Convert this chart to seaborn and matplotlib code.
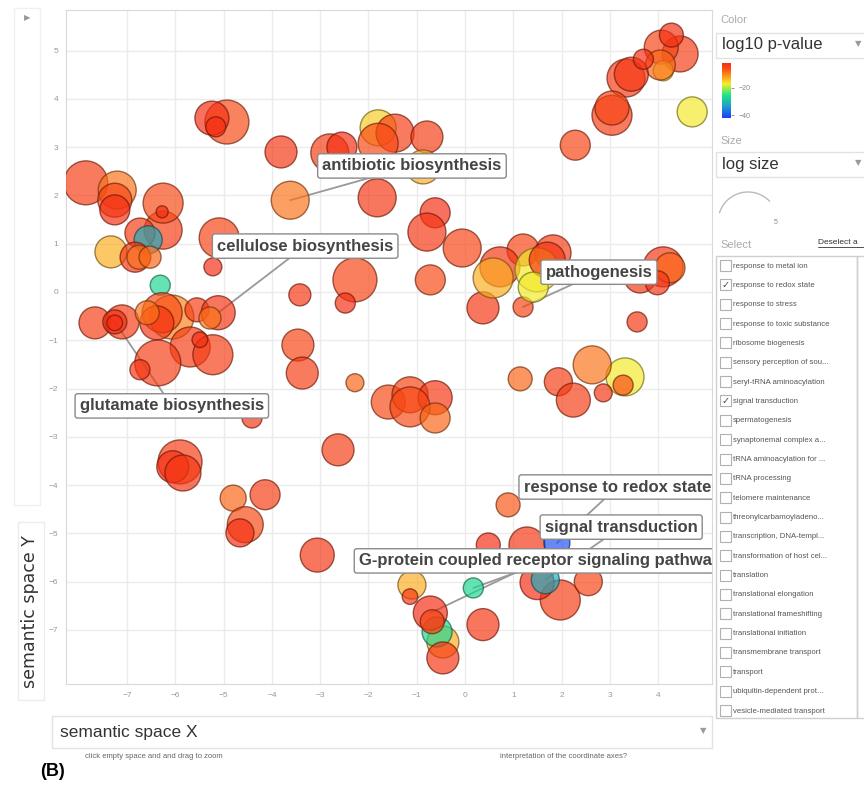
import numpy as np
import pandas as pd
import matplotlib
matplotlib.use("Agg")
import matplotlib.pyplot as plt
import matplotlib.colors as mcolors
import matplotlib.patches as mpatches
import seaborn as sns

# GO term bubbles (semantic space X / Y, log10 p-value, log size)
sem_x = [-7.85, -7.20, -7.25, -7.25, -6.25, -6.25, -6.27, -6.73, -6.56, -7.33,
         -6.83, -6.75, -6.52, -6.31, -4.93, -5.24, -5.16, -3.81, -3.62, -5.09,
         -5.22, -3.42, -2.80, -2.55, -1.80, -1.45, -1.80, -0.79, -0.87, -1.82,
         -0.62, -0.79, -0.06, -2.28, -2.48, -0.72, 0.37, 1.20, 1.20, 1.82,
         0.72, 0.58, 1.49, 1.70, 1.41, 3.62, 4.10, 4.24, 3.98, 3.56,
         4.45, 4.06, 4.27, 3.33, 4.10, 4.04, 3.44, 3.69, 3.04, 3.04,
         4.70, 2.28, -7.66, -7.10, -7.25, -7.25, -6.07, -6.27, -6.38, -6.58,
         -5.55, -5.11, -5.28, -5.69, -5.22, -5.49, -6.36, -6.73, -4.41, -5.90,
         -6.05, -5.84, -4.80, -4.14, -4.55, -4.66, -3.06, -2.63, -3.46, -3.37,
         -2.28, -1.59, -1.14, -0.62, -1.14, -0.62, 1.14, 1.93, 2.24, 3.31,
         2.63, 3.27, 2.86, 0.89, 0.48, 1.28, 1.90, 1.97, 1.49, 1.66,
         2.55, 0.17, 0.37, -1.10, -1.14, -0.46, -0.58, -0.72, -0.68, -0.46]
sem_y = [2.26, 2.11, 1.90, 1.70, 1.28, 1.84, 1.66, 1.22, 1.08, 0.83,
         0.72, 0.72, 0.72, 0.14, 3.52, 3.60, 3.42, 2.90, 1.90, 1.12,
         0.52, -0.06, 2.88, 3.00, 3.40, 3.29, 3.08, 3.21, 2.59, 1.95,
         1.64, 1.24, 0.91, 0.25, -0.23, 0.25, -0.33, -0.31, 0.87, 0.81,
         0.52, 0.29, 0.46, 0.66, 0.10, 0.31, 0.52, 0.50, 0.19, -0.62,
         4.93, 5.07, 5.32, 4.43, 4.58, 4.70, 4.51, 4.82, 3.66, 3.81,
         3.73, 3.04, -0.64, -0.62, -0.62, -0.64, -0.52, -0.43, -0.64, -0.43,
         -0.37, -0.43, -0.54, -1.14, -1.30, -0.99, -1.47, -1.61, -2.61, -3.52,
         -3.62, -3.75, -4.27, -4.20, -4.82, -4.99, -5.45, -3.27, -1.10, -1.68,
         -1.88, -2.28, -2.13, -2.19, -2.38, -2.61, -1.80, -1.86, -2.24, -1.76,
         -1.51, -1.93, -2.09, -4.41, -5.24, -5.24, -5.20, -6.38, -6.02, -5.96,
         -6.00, -6.13, -6.89, -6.07, -6.31, -7.25, -7.04, -6.65, -6.83, -7.58]
log10_p = [-4, -9, -5, -2, -4, -6, -2, -4, -32, -13,
           -3, -9, -8, -27, -6, -2, -2, -3, -9, -5,
           -2, -3, -4, -2, -15, -4, -6, -4, -13, -3,
           -2, -3, -5, -5, -2, -6, -3, -5, -5, -4,
           -3, -13, -17, -3, -17, -3, -3, -8, -3, -3,
           -4, -5, -2, -4, -16, -8, -3, -2, -4, -5,
           -17, -5, -4, -4, -2, -2, -10, -6, -3, -9,
           -4, -3, -9, -4, -4, -2, -4, -3, -3, -4,
           -2, -3, -8, -4, -6, -2, -3, -4, -5, -4,
           -8, -6, -5, -3, -6, -8, -8, -4, -4, -17,
           -9, -6, -3, -7, -2, -3, -40, -4, -2, -32,
           -5, -27, -3, -13, -3, -13, -27, -2, -5, -3]
log_size = [4.63, 3.63, 3.05, 2.53, 3.63, 3.95, 1.00, 2.53, 2.30, 2.78,
            2.53, 1.87, 1.69, 1.52, 4.63, 3.05, 1.52, 2.78, 3.63, 3.95,
            1.36, 1.69, 3.63, 2.53, 3.33, 3.63, 3.95, 2.78, 3.05, 3.63,
            2.53, 3.63, 3.63, 4.63, 1.52, 2.53, 2.78, 1.52, 2.78, 3.33,
            3.95, 3.95, 4.63, 3.33, 2.53, 2.78, 3.95, 2.53, 1.87, 1.52,
            3.33, 3.05, 1.87, 3.63, 1.52, 2.53, 3.05, 1.52, 3.95, 3.05,
            2.53, 2.53, 2.78, 3.05, 1.87, 1.20, 4.63, 3.95, 3.05, 1.87,
            1.87, 3.05, 1.69, 3.95, 3.95, 1.20, 4.99, 1.52, 1.52, 4.63,
            2.78, 3.33, 2.08, 2.53, 3.33, 2.30, 3.05, 2.78, 2.78, 2.78,
            1.36, 3.05, 3.33, 3.05, 3.95, 2.53, 1.87, 2.30, 3.05, 3.63,
            3.63, 1.52, 1.36, 1.87, 1.87, 3.33, 2.08, 3.95, 3.05, 2.30,
            2.30, 1.52, 2.78, 2.30, 1.20, 2.78, 2.53, 3.05, 1.87, 2.78]

# labelled terms: name, bubble index it points at, label centre
label_names = ["antibiotic biosynthesis", "cellulose biosynthesis", "glutamate biosynthesis",
               "pathogenesis", "response to redox state", "signal transduction",
               "G-protein coupled receptor signaling pathway"]
label_target = [18, 71, 64, 37, 106, 109, 117]
label_pos = [(-1.10, 2.61), (-3.31, 0.95), (-6.07, -2.36), (2.77, 0.41),
             (3.15, -4.04), (3.23, -4.87), (1.55, -5.57)]

select_items = ["response to metal ion", "response to redox state", "response to stress",
                "response to toxic substance", "ribosome biogenesis", "sensory perception of sou...",
                "seryl-tRNA aminoacylation", "signal transduction", "spermatogenesis",
                "synaptonemal complex a...", "tRNA aminoacylation for ...", "tRNA processing",
                "telomere maintenance", "threonylcarbamoyladeno...", "transcription, DNA-templ...",
                "transformation of host cel...", "translation", "translational elongation",
                "translational frameshifting", "translational initiation", "transmembrane transport",
                "transport", "ubiquitin-dependent prot...", "vesicle-mediated transport"]
checked = ["response to redox state", "signal transduction"]

df = pd.DataFrame({"x": sem_x, "y": sem_y, "log10_p": log10_p, "log_size": log_size})

sns.set_style("white")
plt.rcParams['font.family'] = ['Liberation Sans', 'DejaVu Sans']

cmap = mcolors.LinearSegmentedColormap.from_list(
    "revigo", [(0.0, "#1e3cff"), (0.22, "#1ea0c8"), (0.42, "#1ee682"),
               (0.62, "#f2ee2a"), (0.78, "#ff8c1a"), (0.9, "#f84a14"), (1.0, "#f42e12")])
norm = mcolors.Normalize(vmin=-42, vmax=-2)
edge_cols = [tuple(np.array(cmap(norm(v))[:3]) * 0.45) for v in df["log10_p"]]

fig = plt.figure(figsize=(8.64, 7.86), dpi=100)
ax = fig.add_axes([66 / 864, 1 - 684 / 786, 646 / 864, 674 / 786])

sns.scatterplot(data=df, x="x", y="y", hue="log10_p", size="log_size",
                sizes=(75, 1097), size_norm=(1, 5), hue_norm=(-42, -2), palette=cmap,
                alpha=0.68, edgecolor=edge_cols, linewidth=1, legend=False, ax=ax, zorder=3)

ax.set_xlim(-8.26, 5.11)
ax.set_ylim(-8.12, 5.84)
ax.set_xticks(range(-7, 5))
ax.set_yticks(range(-7, 6))
ax.grid(True, color="#ebebeb", lw=1)
ax.set_axisbelow(True)
ax.tick_params(labelsize=6, colors="#999999", length=2, width=0.8)
for s in ax.spines.values():
    s.set_color("#d9d9d9")
ax.set_xlabel("")
ax.set_ylabel("")

# leader lines (under bubbles) and label boxes (above)
for name, tgt, (tx, ty) in zip(label_names, label_target, label_pos):
    ax.annotate("", xy=(sem_x[tgt], sem_y[tgt]), xytext=(tx, ty),
                arrowprops=dict(arrowstyle="-", color="#999999", lw=1.3,
                                shrinkA=0, shrinkB=0), zorder=2)
    ax.text(tx, ty, name, ha="center", va="center", fontsize=12, fontweight="bold",
            color="#454545", zorder=6, clip_on=True,
            bbox=dict(boxstyle="round,pad=0.28,rounding_size=0.15", fc="white",
                      ec="#8a8a8a", lw=1))
# second line of the G-protein label
ax.annotate("", xy=(sem_x[111], sem_y[111]), xytext=(1.72, -5.57),
            arrowprops=dict(arrowstyle="-", color="#999999", lw=1.3, shrinkA=0, shrinkB=0),
            zorder=2)

# ---- page furniture drawn in pixel coordinates ----
ov = fig.add_axes([0, 0, 1, 1])
ov.set_xlim(0, 864)
ov.set_ylim(786, 0)
ov.axis("off")

def box(x0, y0, x1, y1, ec="#e2e2e2"):
    ov.add_patch(mpatches.Rectangle((x0, y0), x1 - x0, y1 - y0, fill=False, ec=ec, lw=1))

box(14, 8, 40, 505, ec="#f0f0f0")
ov.text(27, 18, "▶", fontsize=6, color="#999999", ha="center", va="center",
        family=["DejaVu Sans"])
box(18, 522, 44, 700, ec="#ececec")
ov.text(30, 612, "semantic space Y", rotation=90, fontsize=12.5, color="#333333",
        ha="center", va="center", family=["DejaVu Sans"])

box(52, 716, 712, 748)
ov.text(60, 732, "semantic space X", fontsize=12.5, color="#333333", va="center")
ov.text(703, 731, "▼", fontsize=6, color="#999999", ha="center", va="center",
        family=["DejaVu Sans"])
ov.text(85, 757, "click empty space and and drag to zoom", fontsize=5.5, color="#666666",
        va="center")
ov.text(500, 757, "interpretation of the coordinate axes?", fontsize=5.5, color="#666666",
        va="center")
ov.text(40, 772, "(B)", fontsize=13, fontweight="bold", color="black", va="center")

# side panel
ov.text(720, 20, "Color", fontsize=8, color="#aaaaaa", va="center")
box(716, 33, 866, 58)
ov.text(722, 45, "log10 p-value", fontsize=12, color="#333333", va="center")
ov.text(858, 44, "▼", fontsize=6, color="#999999", ha="center", va="center",
        family=["DejaVu Sans"])
cax = fig.add_axes([722 / 864, 1 - 118 / 786, 9 / 864, 55 / 786])
cb = matplotlib.colorbar.ColorbarBase(cax, cmap=cmap, norm=norm, ticks=[-20, -40])
cb.outline.set_visible(False)
cax.tick_params(labelsize=5, colors="#888888", length=2, width=0.6)

ov.text(720, 141, "Size", fontsize=8, color="#aaaaaa", va="center")
box(716, 152, 866, 177)
ov.text(722, 164, "log size", fontsize=12, color="#333333", va="center")
ov.text(858, 163, "▼", fontsize=6, color="#999999", ha="center", va="center",
        family=["DejaVu Sans"])
ov.add_patch(mpatches.Arc((748, 222), 60, 60, theta1=197, theta2=317, color="#bbbbbb", lw=1))
ov.text(776, 222, "5", fontsize=5, color="#888888", ha="center", va="center")

ov.text(720, 245, "Select", fontsize=8, color="#aaaaaa", va="center")
ov.text(818, 243, "Deselect a", fontsize=6, color="#333333", va="center")
ov.plot([818, 864], [247, 247], color="#333333", lw=0.6)
box(716, 256, 857, 718, ec="#cfcfcf")
box(857, 256, 870, 718, ec="#cfcfcf")
for i, item in enumerate(select_items):
    yy = 266 + i * 19.35
    ov.add_patch(mpatches.Rectangle((720, yy - 6), 11, 11, fill=False, ec="#b0b0b0", lw=0.8))
    if item in checked:
        ov.text(725.5, yy - 0.5, "✓", fontsize=7, color="#444444", ha="center", va="center",
                family=["DejaVu Sans"])
    ov.text(733, yy, item, fontsize=5.6, color="#555555", va="center")

fig.savefig("out.png", dpi=100)
